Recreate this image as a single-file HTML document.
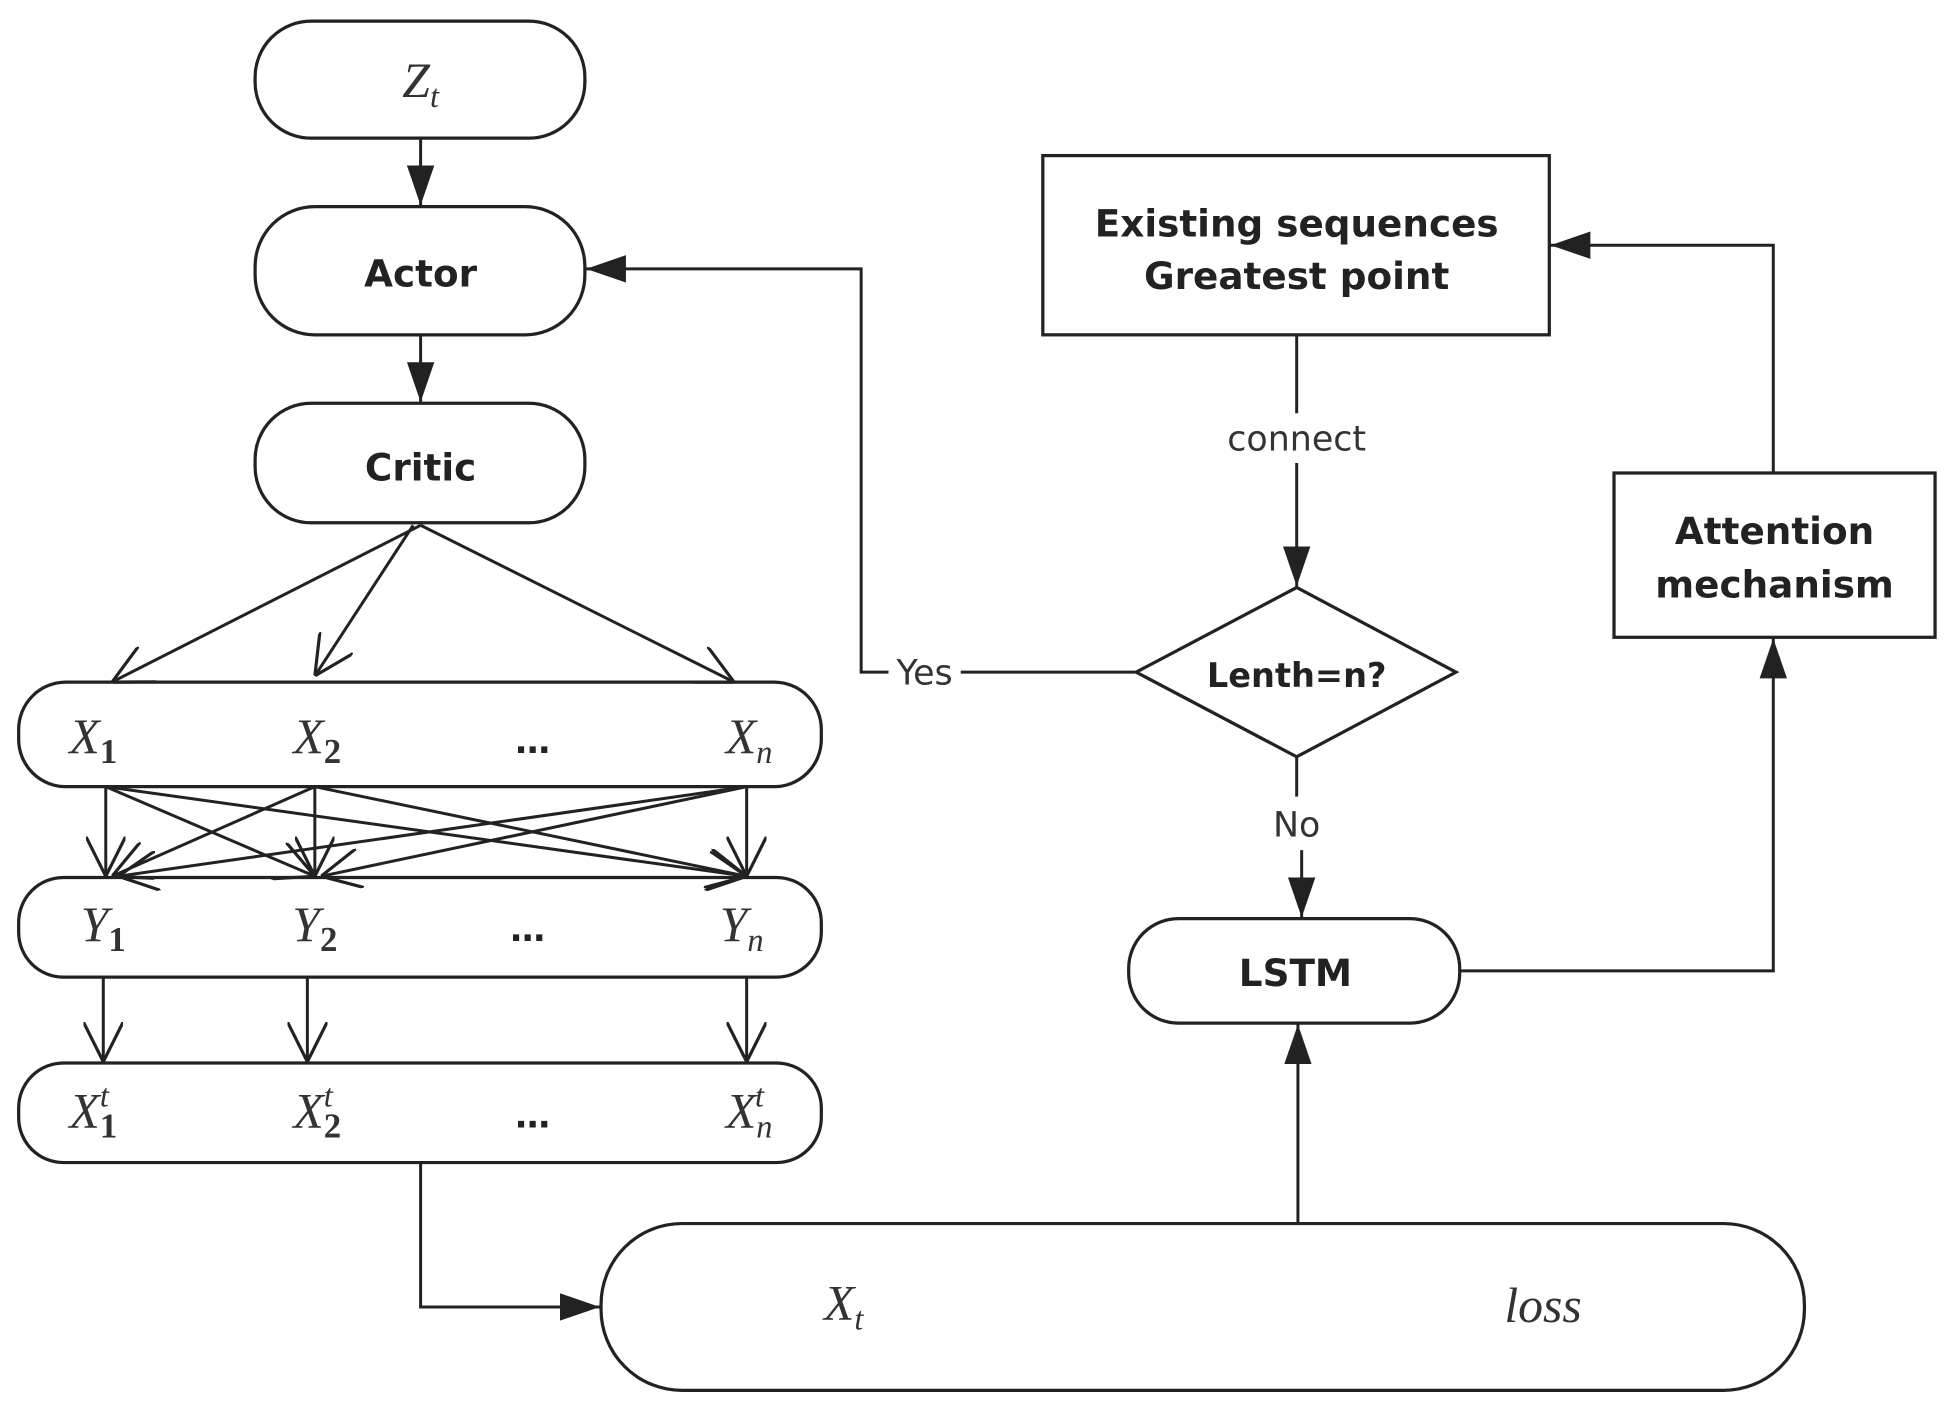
<!DOCTYPE html>
<html><head><meta charset="utf-8"><style>
html,body{margin:0;padding:0;background:#fff}
svg{display:block}
.b{font-family:"DejaVu Sans","Liberation Sans",sans-serif;font-weight:bold;fill:#222;text-anchor:middle}
.n{font-family:"DejaVu Sans","Liberation Sans",sans-serif;fill:#333;text-anchor:middle}
.m{font-family:"Liberation Serif",serif;font-style:italic;fill:#333;text-anchor:middle;font-size:40px}
.s{font-style:normal;font-size:28px;font-weight:bold}
.i{font-size:26px}
</style></head><body>
<svg width="1950" height="1414" viewBox="0 0 1567 1136" preserveAspectRatio="none" xmlns="http://www.w3.org/2000/svg">
<defs>
<marker id="F" viewBox="0 0 10 10" refX="10" refY="5" markerWidth="32" markerHeight="22" markerUnits="userSpaceOnUse" orient="auto" preserveAspectRatio="none"><path d="M0,0 L10,5 L0,10 z" fill="#222"/></marker>
<marker id="o" viewBox="0 0 10 10" refX="10" refY="5" markerWidth="32" markerHeight="32" markerUnits="userSpaceOnUse" orient="auto"><path d="M0,0 L10,5 L0,10" fill="none" stroke="#222" stroke-width="0.8"/></marker>
</defs>
<g fill="none" stroke="#222" stroke-width="2.6">
<rect x="205" y="17" width="265" height="94" rx="45"/>
<rect x="205" y="166" width="265" height="103" rx="48"/>
<rect x="205" y="324" width="265" height="96" rx="45"/>
<rect x="15" y="548" width="645" height="84" rx="38"/>
<rect x="15" y="705" width="645" height="80" rx="36"/>
<rect x="15" y="854" width="645" height="80" rx="36"/>
<rect x="483" y="983" width="967" height="134" rx="65"/>
<rect x="907" y="738" width="266" height="84" rx="40"/>
<rect x="1297" y="380" width="258" height="132"/>
<rect x="838" y="125" width="407" height="144"/>
<polygon points="913,540 1042,472 1170,540 1042,608"/>
</g>
<g fill="none" stroke="#222" stroke-width="2.4">
<line x1="338" y1="111" x2="338" y2="165" marker-end="url(#F)"/>
<line x1="338" y1="269" x2="338" y2="323" marker-end="url(#F)"/>
<line x1="338" y1="422" x2="90" y2="548" marker-end="url(#o)"/>
<line x1="332" y1="422" x2="253" y2="543" marker-end="url(#o)"/>
<line x1="338" y1="422" x2="590" y2="548" marker-end="url(#o)"/>
<line x1="85" y1="632" x2="85" y2="704" marker-end="url(#o)"/>
<line x1="85" y1="632" x2="253" y2="704" marker-end="url(#o)"/>
<line x1="85" y1="632" x2="600" y2="704" marker-end="url(#o)"/>
<line x1="253" y1="632" x2="90" y2="704" marker-end="url(#o)"/>
<line x1="253" y1="632" x2="253" y2="704" marker-end="url(#o)"/>
<line x1="253" y1="632" x2="600" y2="704" marker-end="url(#o)"/>
<line x1="600" y1="632" x2="95" y2="704" marker-end="url(#o)"/>
<line x1="600" y1="632" x2="258" y2="704" marker-end="url(#o)"/>
<line x1="600" y1="632" x2="600" y2="704" marker-end="url(#o)"/>
<line x1="83" y1="785" x2="83" y2="853" marker-end="url(#o)"/>
<line x1="247" y1="785" x2="247" y2="853" marker-end="url(#o)"/>
<line x1="600" y1="785" x2="600" y2="853" marker-end="url(#o)"/>
<polyline points="338,934 338,1050 482,1050" marker-end="url(#F)"/>
<line x1="1043" y1="983" x2="1043" y2="823" marker-end="url(#F)"/>
<polyline points="1173,780 1425,780 1425,513" marker-end="url(#F)"/>
<polyline points="1425,380 1425,197 1246,197" marker-end="url(#F)"/>
<line x1="1042" y1="269" x2="1042" y2="332"/>
<line x1="1042" y1="372" x2="1042" y2="471" marker-end="url(#F)"/>
<line x1="1042" y1="608" x2="1042" y2="640"/>
<line x1="1046" y1="683" x2="1046" y2="737" marker-end="url(#F)"/>
<polyline points="913,540 772,540"/>
<polyline points="714,540 692,540 692,216 471,216" marker-end="url(#F)"/>
</g>
<text x="338" y="78" class="m">Z<tspan class="i" dy="8">t</tspan></text>
<text x="338" y="230" class="b" font-size="30">Actor</text>
<text x="338" y="386" class="b" font-size="30">Critic</text>
<text x="75" y="605" class="m">X<tspan class="s" dy="8">1</tspan></text>
<text x="255" y="605" class="m">X<tspan class="s" dy="8">2</tspan></text>
<text x="428" y="605" class="b" font-size="28">…</text>
<text x="602" y="605" class="m">X<tspan class="i" dy="8">n</tspan></text>
<text x="83" y="756" class="m">Y<tspan class="s" dy="8">1</tspan></text>
<text x="253" y="756" class="m">Y<tspan class="s" dy="8">2</tspan></text>
<text x="424" y="756" class="b" font-size="28">…</text>
<text x="596" y="756" class="m">Y<tspan class="i" dy="8">n</tspan></text>
<text x="75" y="906" class="m">X<tspan class="s" dy="8">1</tspan><tspan class="i" dx="-14" dy="-25">t</tspan></text>
<text x="255" y="906" class="m">X<tspan class="s" dy="8">2</tspan><tspan class="i" dx="-14" dy="-25">t</tspan></text>
<text x="428" y="906" class="b" font-size="28">…</text>
<text x="602" y="906" class="m">X<tspan class="i" dy="8">n</tspan><tspan class="i" dx="-14" dy="-25">t</tspan></text>
<text x="678" y="1060" class="m">X<tspan class="i" dy="8">t</tspan></text>
<text x="1240" y="1062" class="m">loss</text>
<text x="1041" y="792" class="b" font-size="30">LSTM</text>
<text x="1042" y="190" class="b" font-size="30">Existing sequences</text>
<text x="1042" y="232" class="b" font-size="30">Greatest point</text>
<text x="1426" y="437" class="b" font-size="30">Attention</text>
<text x="1426" y="480" class="b" font-size="30">mechanism</text>
<text x="1042" y="552" class="b" font-size="27">Lenth=n?</text>
<text x="1042" y="362" class="n" font-size="28">connect</text>
<text x="1042" y="672" class="n" font-size="28">No</text>
<text x="743" y="550" class="n" font-size="28">Yes</text>
</svg>
</body></html>
